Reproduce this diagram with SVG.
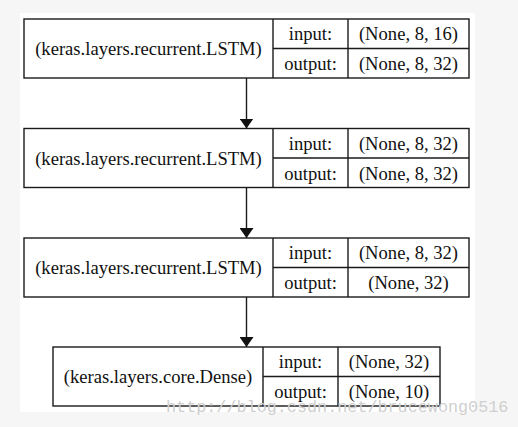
<svg xmlns="http://www.w3.org/2000/svg" width="518" height="427" viewBox="0 0 518 427">
<defs>
<style>
.box{fill:#fff;stroke:#1a1a1a;stroke-width:1.4}
.ln{stroke:#1a1a1a;stroke-width:1.4;fill:none}
.t{font-family:'Liberation Serif','Times New Roman',Times,'DejaVu Serif',serif;font-size:18.6px;fill:#111;text-anchor:middle}
.wm{font-family:'Liberation Mono','Courier New',monospace;font-size:16.8px;fill:#cfcfcf;text-anchor:start}
</style>
<marker id="ah" viewBox="0 0 10 14" refX="10" refY="7" markerWidth="10" markerHeight="14" markerUnits="userSpaceOnUse" orient="auto">
<path d="M0,0 L10,7 L0,14 Z" fill="#111"/>
</marker>
</defs>
<rect x="0" y="0" width="518" height="427" fill="#f6f6f6"/>
<rect x="20" y="13" width="455" height="399" fill="#ffffff"/>
<g id="connectors">
<line class="ln" x1="246.5" y1="78" x2="246.5" y2="128.5" marker-end="url(#ah)"/>
<line class="ln" x1="246.5" y1="187.5" x2="246.5" y2="238" marker-end="url(#ah)"/>
<line class="ln" x1="246.5" y1="297" x2="246.5" y2="347" marker-end="url(#ah)"/>
</g>
<g id="node1" class="t" font-family="Liberation Serif, serif">
<rect class="box" x="24" y="19" width="445" height="59"/>
<line class="ln" x1="273" y1="19" x2="273" y2="78"/>
<line class="ln" x1="348" y1="19" x2="348" y2="78"/>
<line class="ln" x1="273" y1="48.5" x2="469" y2="48.5"/>
<text x="148.5" y="55">(keras.layers.recurrent.LSTM)</text>
<text x="310.5" y="40">input:</text>
<text x="408.5" y="40">(None, 8, 16)</text>
<text x="310.5" y="70">output:</text>
<text x="408.5" y="70">(None, 8, 32)</text>
</g>
<g id="node2" class="t" font-family="Liberation Serif, serif">
<rect class="box" x="24" y="128.5" width="445" height="59"/>
<line class="ln" x1="273" y1="128.5" x2="273" y2="187.5"/>
<line class="ln" x1="348" y1="128.5" x2="348" y2="187.5"/>
<line class="ln" x1="273" y1="158" x2="469" y2="158"/>
<text x="148.5" y="164.5">(keras.layers.recurrent.LSTM)</text>
<text x="310.5" y="149.5">input:</text>
<text x="408.5" y="149.5">(None, 8, 32)</text>
<text x="310.5" y="179.5">output:</text>
<text x="408.5" y="179.5">(None, 8, 32)</text>
</g>
<g id="node3" class="t" font-family="Liberation Serif, serif">
<rect class="box" x="24" y="238" width="445" height="59"/>
<line class="ln" x1="273" y1="238" x2="273" y2="297"/>
<line class="ln" x1="348" y1="238" x2="348" y2="297"/>
<line class="ln" x1="273" y1="267.5" x2="469" y2="267.5"/>
<text x="148.5" y="274">(keras.layers.recurrent.LSTM)</text>
<text x="310.5" y="259">input:</text>
<text x="408.5" y="259">(None, 8, 32)</text>
<text x="310.5" y="289">output:</text>
<text x="408.5" y="289">(None, 32)</text>
</g>
<g id="node4" class="t" font-family="Liberation Serif, serif">
<rect class="box" x="53" y="347" width="387" height="59"/>
<line class="ln" x1="263" y1="347" x2="263" y2="406"/>
<line class="ln" x1="338" y1="347" x2="338" y2="406"/>
<line class="ln" x1="263" y1="376.5" x2="440" y2="376.5"/>
<text x="158" y="383">(keras.layers.core.Dense)</text>
<text x="300.5" y="368">input:</text>
<text x="389" y="368">(None, 32)</text>
<text x="300.5" y="398">output:</text>
<text x="389" y="398">(None, 10)</text>
</g>
<text class="wm" x="166" y="412">http://blog.csdn.net/brucewong0516</text>
</svg>
